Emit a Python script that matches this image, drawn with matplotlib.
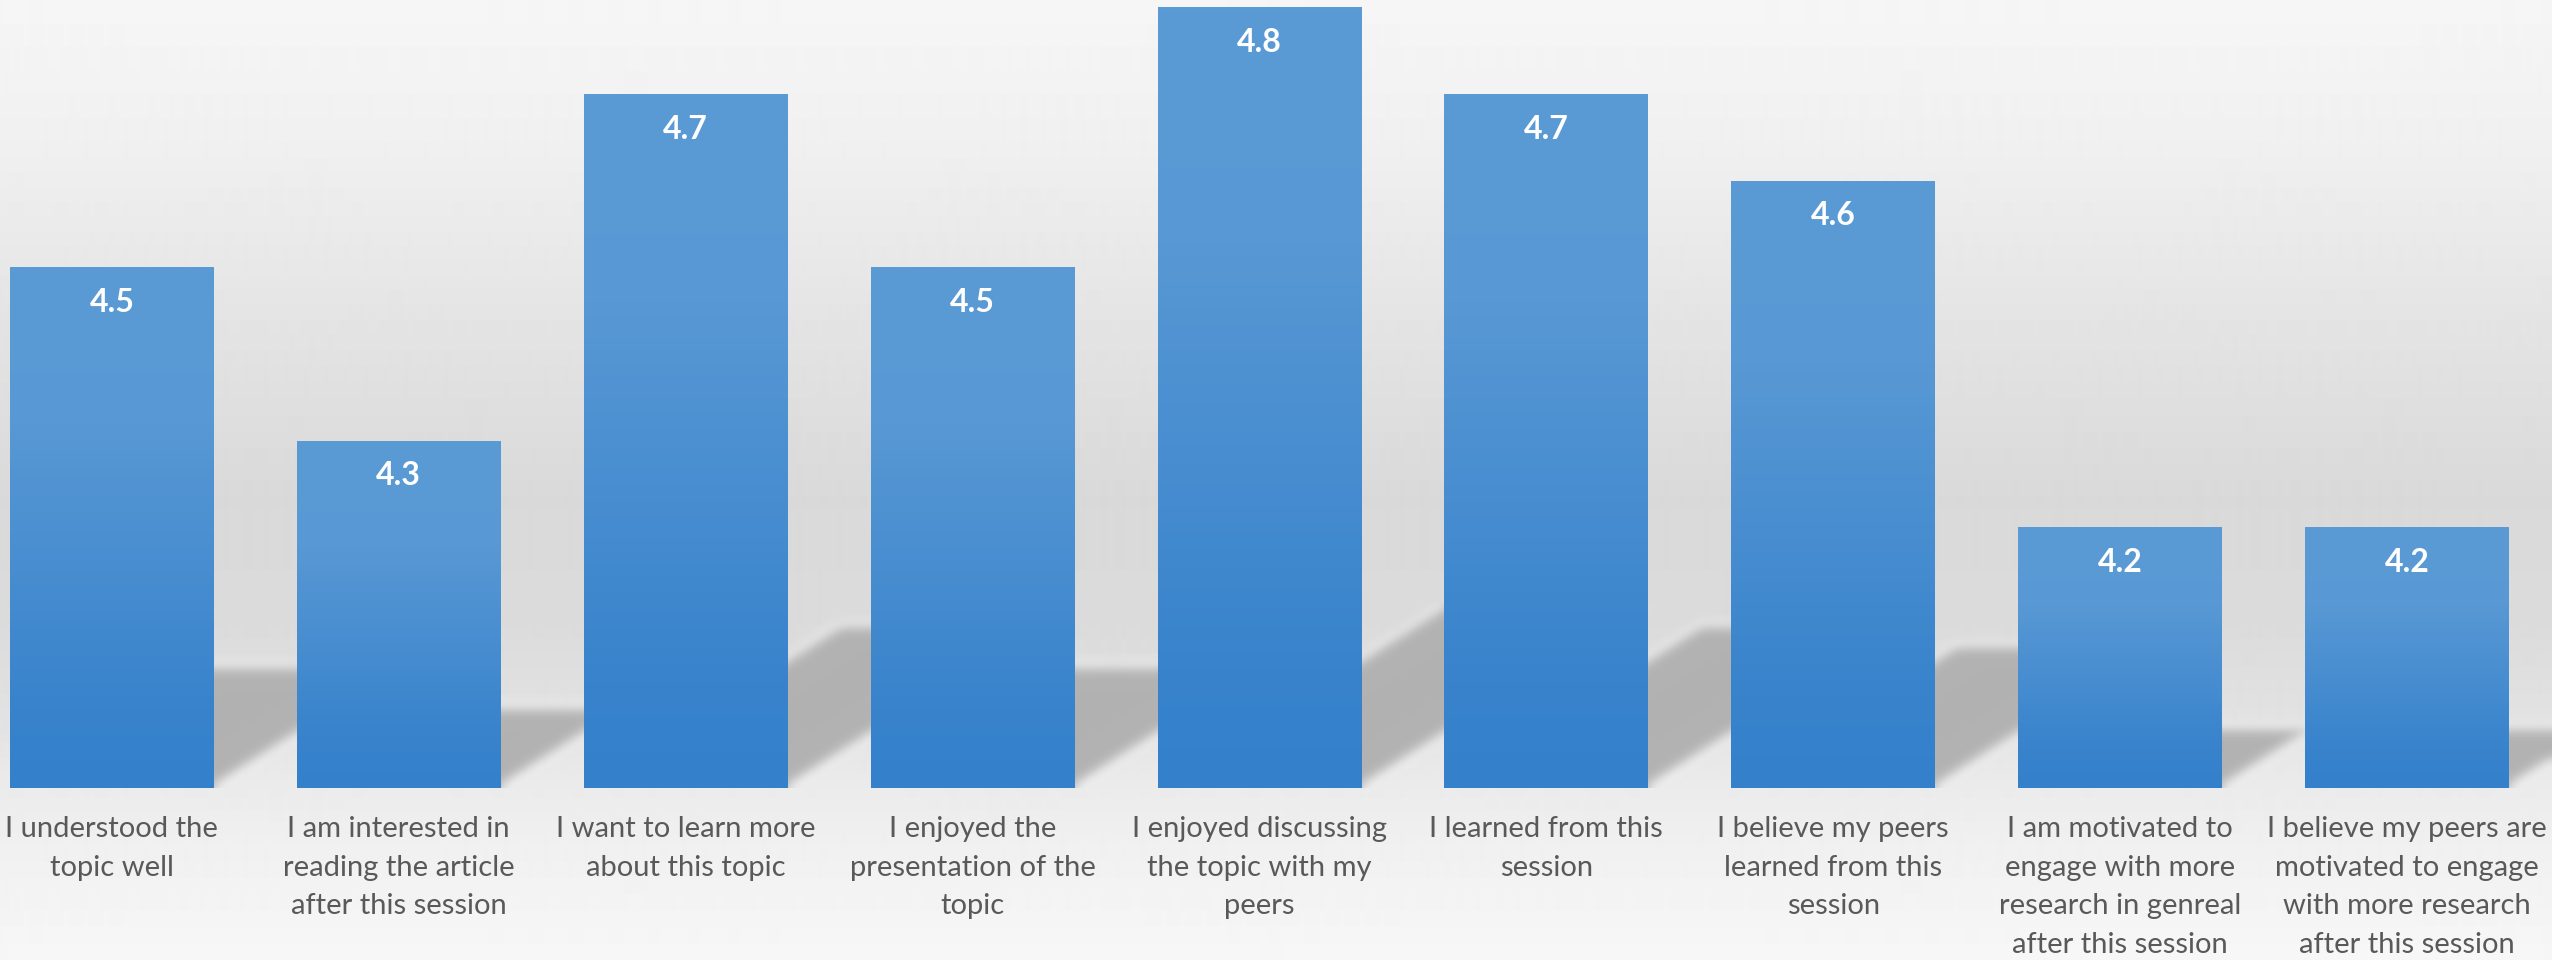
import numpy as np
import matplotlib
matplotlib.use("Agg")
import matplotlib.pyplot as plt
import matplotlib.colors as mcolors
from matplotlib.collections import PolyCollection

# survey statements (line breaks as in the original chart)
categories = [
    "I understood the\ntopic well",
    "I am interested in\nreading the article\nafter this session",
    "I want to learn more\nabout this topic",
    "I enjoyed the\npresentation of the\ntopic",
    "I enjoyed discussing\nthe topic with my\npeers",
    "I learned from this\nsession",
    "I believe my peers\nlearned from this\nsession",
    "I am motivated to\nengage with more\nresearch in genreal\nafter this session",
    "I believe my peers are\nmotivated to engage\nwith more research\nafter this session",
]
scores = [4.5, 4.3, 4.7, 4.5, 4.8, 4.7, 4.6, 4.2, 4.2]
axis_min = 3.9
axis_max = 4.809

FONT = "Lato"
TEXT_GREY = "#595959"
BAR_TOP = "#5b9bd5"
BAR_BOTTOM = "#3480cb"


class GaussBlur:
    # agg filter used to soften the bar shadows
    def __init__(self, sigma):
        self.sigma = sigma

    def __call__(self, im, dpi):
        r = int(3 * self.sigma)
        src = np.pad(im, [(r, r), (r, r), (0, 0)], "edge")
        k = np.exp(-0.5 * (np.arange(-r, r + 1) / self.sigma) ** 2)
        k /= k.sum()
        tmp = np.zeros_like(src)
        for i, w in enumerate(k):
            tmp += w * np.roll(src, i - r, axis=0)
        out = np.zeros_like(src)
        for i, w in enumerate(k):
            out += w * np.roll(tmp, i - r, axis=1)
        return out[r:-r, r:-r], 0, 0


fig = plt.figure(figsize=(25.52, 9.6), dpi=100)

# page background: light top, grey middle, light floor
bg = fig.add_axes([0, 0, 1, 1], zorder=-5)
stops = [0.0, 0.15, 0.35, 0.52, 0.65, 0.75, 0.82, 0.88, 1.0]
greys = [0xf6, 0xf0, 0xe3, 0xd9, 0xdb, 0xe2, 0xeb, 0xf0, 0xf7]
yy = np.linspace(0, 1, 960)
g = np.interp(yy, stops, greys) / 255.0
bg.imshow(np.repeat(g[:, None], 2, axis=1), cmap="gray", vmin=0, vmax=1,
          aspect="auto", extent=(0, 1, 1, 0), interpolation="bilinear")
bg.set_xlim(0, 1)
bg.set_ylim(1, 0)
bg.axis("off")

ax = fig.add_axes([0, 1 - 788 / 960, 1, 788 / 960])
ax.set_facecolor("none")

x = np.arange(len(scores))
heights = np.array(scores) - axis_min
bars = ax.bar(x, heights, bottom=axis_min, width=0.71, color=BAR_BOTTOM, zorder=3)

# perspective shadows cast up and to the right of each bar
shadow_k = 0.236
shear = 1.12
polys = []
for b in bars:
    x0, y0 = b.get_x(), b.get_y()
    x1 = x0 + b.get_width()
    h = b.get_height()
    polys.append([(x0, y0), (x1, y0), (x1 + shear * h, y0 + shadow_k * h),
                  (x0 + shear * h, y0 + shadow_k * h)])
shadows = PolyCollection(polys, facecolors="#b3b3b3", edgecolors="none", zorder=1)
shadows.set_agg_filter(GaussBlur(4.5))
ax.add_collection(shadows)

# vertical gradient fill on every bar
cmap = mcolors.LinearSegmentedColormap.from_list(
    "bar", [(0.0, BAR_TOP), (0.3, "#5898d4"), (0.85, "#3883cc"), (1.0, BAR_BOTTOM)])
grad = np.linspace(0, 1, 256)[:, None]
for b in bars:
    x0, y0 = b.get_x(), b.get_y()
    ax.imshow(grad, cmap=cmap, aspect="auto", zorder=4, interpolation="bilinear",
              extent=(x0, x0 + b.get_width(), y0, y0 + b.get_height()), origin="upper")

for xi, v in zip(x, scores):
    ax.annotate(f"{v:.1f}", (xi, v), xytext=(0, -25), textcoords="offset points",
                ha="center", va="center", color="white", fontsize=23,
                fontweight="bold", family=FONT, zorder=6)

ax.set_xlim(-0.390, 8.506)
ax.set_ylim(axis_min, axis_max)
ax.set_xticks(x)
ax.set_xticklabels(categories, fontsize=21, color=TEXT_GREY, family=FONT,
                   linespacing=1.61)
ax.tick_params(axis="x", length=0, pad=20)
ax.set_yticks([])
for s in ax.spines.values():
    s.set_visible(False)

fig.savefig("out.png", dpi=100)
